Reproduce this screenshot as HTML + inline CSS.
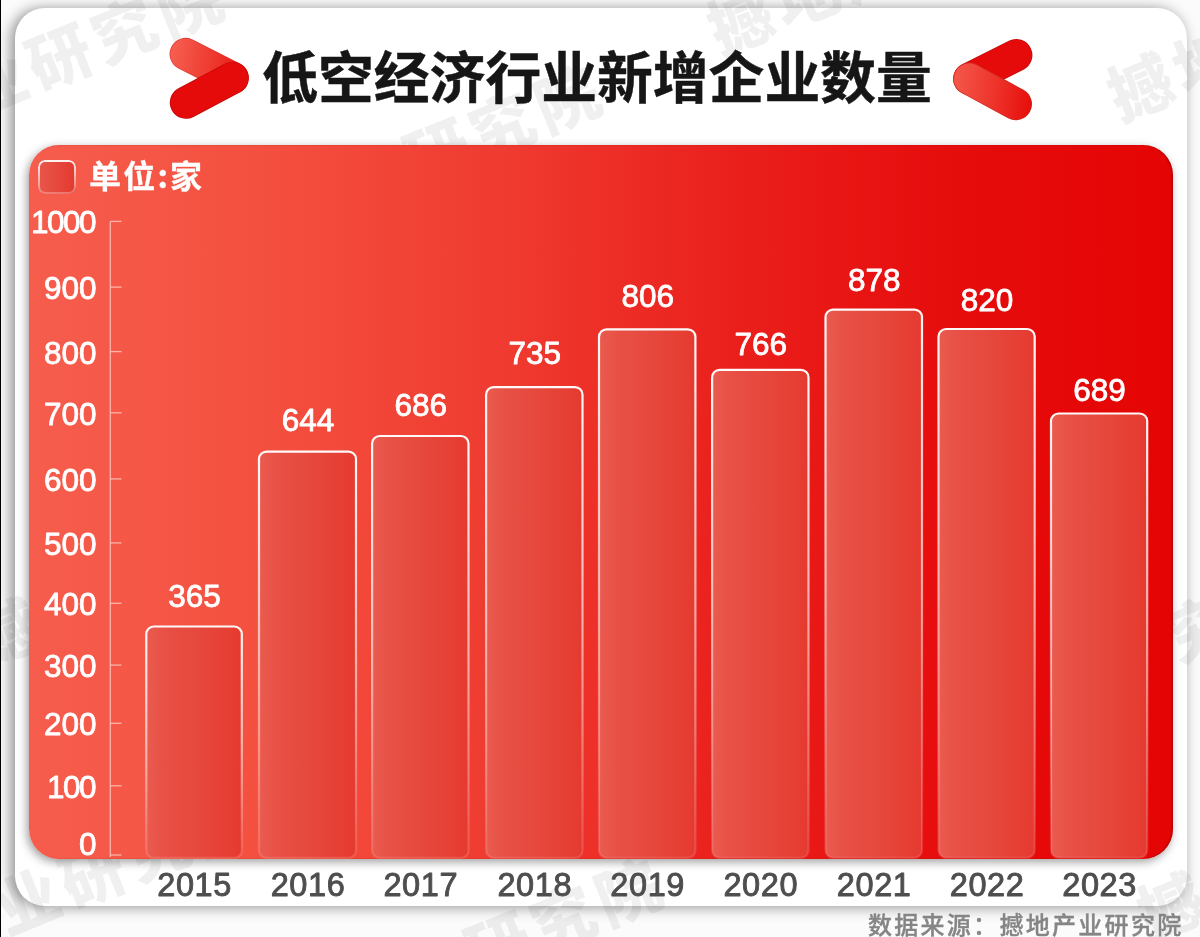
<!DOCTYPE html>
<html lang="zh-CN">
<head>
<meta charset="utf-8">
<title>低空经济行业新增企业数量</title>
<style>
html,body{margin:0;padding:0;}
body{width:1200px;height:937px;position:relative;overflow:hidden;background:#fbfbfb;
font-family:"Liberation Sans","Noto Sans CJK SC",sans-serif;}
.edge{position:absolute;left:0;top:0;width:1px;height:937px;background:#000;}
.card{position:absolute;left:14.5px;top:8px;width:1172px;height:898px;border-radius:30px;background:#fff;
box-shadow:-3.5px 1px 14px rgba(0,0,0,.43);}
.wmlayer{position:absolute;left:0;top:0;width:1200px;height:937px;overflow:hidden;}
.wm{position:absolute;white-space:nowrap;font-family:"Noto Sans CJK SC",sans-serif;font-weight:900;font-size:64px;
letter-spacing:6px;color:#000;opacity:.055;transform:rotate(-22deg);line-height:64px;height:64px;}
.title{position:absolute;left:0;top:36px;width:1200px;text-align:center;margin:0;
font-family:"Noto Sans CJK SC",sans-serif;font-weight:700;font-size:55.8px;line-height:76px;color:#161616;
letter-spacing:0px;text-indent:-6px;-webkit-text-stroke:.45px #161616;}
.ico{position:absolute;left:0;top:0;}
.panel{position:absolute;left:29px;top:145px;width:1144px;height:713.5px;border-radius:30px;
background:linear-gradient(90deg,#f65d4d 0%,#f4503f 20%,#ef3a30 42%,#ea1f1b 62%,#e60d0d 80%,#e50404 100%);
box-shadow:-2px 3px 10px rgba(0,0,0,.38),inset -1.5px 0 1.5px rgba(110,0,0,.40);}
.lgbox{position:absolute;left:38.4px;top:160px;width:38px;height:34px;border-radius:7px;box-sizing:border-box;
background:linear-gradient(90deg,#e9574b,#e4392f);}
.lgbox:after{content:"";position:absolute;left:0;top:0;right:0;bottom:0;border-radius:7px;border:2px solid #fff;
-webkit-mask:linear-gradient(180deg,rgba(0,0,0,.95),rgba(0,0,0,.25));mask:linear-gradient(180deg,rgba(0,0,0,.95),rgba(0,0,0,.25));}
.lgtxt{position:absolute;left:89px;top:149.5px;margin:0;font-family:"Noto Sans CJK SC",sans-serif;font-weight:700;
font-size:32px;line-height:48px;letter-spacing:2.2px;color:#fff;white-space:nowrap;-webkit-text-stroke:.3px #fff;}
.chart{position:absolute;left:0;top:0;}
.chart text{font-family:"Liberation Sans",sans-serif;}
.yl text,.vl text{font-size:31.5px;fill:#fff;stroke:#fff;stroke-width:.8px;stroke-linejoin:round;}
.yl text.n1{letter-spacing:-1.5px;}
.xl text{font-size:32.5px;fill:#4e4e4e;stroke:#4e4e4e;stroke-width:.9px;stroke-linejoin:round;letter-spacing:.6px;}
.src{position:absolute;right:16.5px;top:906px;margin:0;font-family:"Noto Sans CJK SC",sans-serif;font-weight:500;
font-size:24px;line-height:36px;letter-spacing:2.3px;color:#858585;white-space:nowrap;-webkit-text-stroke:.35px #858585;}
</style>
</head>
<body>
<div class="edge"></div>
<div class="card"></div>
<div class="wmlayer">
<div class="wm" style="left:-234px;top:125px;transform-origin:35px 32px">撼地产业研究院</div>
<div class="wm" style="left:144px;top:220px;transform-origin:35px 32px">撼地产业研究院</div>
<div class="wm" style="left:707px;top:-15px;transform-origin:35px 32px">撼地产业研究院</div>
<div class="wm" style="left:1107px;top:51px;transform-origin:35px 32px">撼地产业研究院</div>
<div class="wm" style="left:-201px;top:943px;transform-origin:35px 32px">撼地产业研究院</div>
<div class="wm" style="left:205px;top:1013px;transform-origin:35px 32px">撼地产业研究院</div>
<div class="wm" style="left:-27px;top:596px;transform-origin:35px 32px">撼地产业研究院</div>
<div class="wm" style="left:840px;top:723px;transform-origin:35px 32px">撼地产业研究院</div>
<div class="wm" style="left:1137px;top:870px;transform-origin:35px 32px">撼地产业研究院</div>
</div>
<svg class="ico" width="1200" height="140" viewBox="0 0 1200 140">
<defs>
<linearGradient id="gl" gradientUnits="userSpaceOnUse" x1="170" y1="60" x2="244" y2="72">
<stop offset="0" stop-color="#f65f50"/><stop offset="0.55" stop-color="#ee3a30"/><stop offset="1" stop-color="#e71512"/>
</linearGradient>
<linearGradient id="gr" gradientUnits="userSpaceOnUse" x1="954" y1="88" x2="1032" y2="96">
<stop offset="0" stop-color="#f4564a"/><stop offset="0.5" stop-color="#ee352c"/><stop offset="1" stop-color="#e60e0c"/>
</linearGradient>
</defs>
<g fill="none" stroke-linecap="round" stroke-width="32.4">
<path d="M185.8 54.1L232.6 77.9" stroke="#d8322a"/>
<path d="M185.8 54.1L232.6 77.9" stroke="url(#gl)" stroke-width="31"/>
<path d="M232.6 77.9L186 102.6" stroke="#c40808"/>
<path d="M232.6 77.9L186 102.6" stroke="#e60b0b" stroke-width="31"/>
<path d="M1016.2 55.2L969.4 78.8" stroke="#c40808"/>
<path d="M1016.2 55.2L969.4 78.8" stroke="#e60b0b" stroke-width="31"/>
<path d="M969.4 78.8L1015.8 104" stroke="#cf2620"/>
<path d="M969.4 78.8L1015.8 104" stroke="url(#gr)" stroke-width="31"/>
</g>
</svg>
<h1 class="title">低空经济行业新增企业数量</h1>
<div class="panel"></div>
<div class="lgbox"></div>
<p class="lgtxt">单位:家</p>
<svg class="chart" width="1200" height="937" viewBox="0 0 1200 937">
<defs>
<linearGradient id="bf" x1="0" y1="0" x2="1" y2="0">
<stop offset="0" stop-color="#ea5b4f"/><stop offset="0.18" stop-color="#e85146"/><stop offset="0.6" stop-color="#e6463b"/><stop offset="0.88" stop-color="#e63e33"/><stop offset="1" stop-color="#e5392f"/>
</linearGradient>
<linearGradient id="bs" x1="0" y1="0" x2="0" y2="1">
<stop offset="0" stop-color="#fff" stop-opacity="0.97"/><stop offset="0.5" stop-color="#fff" stop-opacity="0.6"/><stop offset="1" stop-color="#fff" stop-opacity="0.12"/>
</linearGradient>
</defs>
<g stroke="#ffffff" stroke-opacity="0.55" stroke-width="1.3" fill="none">
<path d="M110.3 221.4V857"/>
<path d="M110.3 221.4H121.5"/>
<path d="M110.3 287.1H121.5"/>
<path d="M110.3 351.6H121.5"/>
<path d="M110.3 412.8H121.5"/>
<path d="M110.3 478.9H121.5"/>
<path d="M110.3 542.9H121.5"/>
<path d="M110.3 603.3H121.5"/>
<path d="M110.3 665.1H121.5"/>
<path d="M110.3 723.3H121.5"/>
<path d="M110.3 785.8H121.5"/>
<path d="M110.3 855.0H121.5"/>
</g>
<g class="yl" text-anchor="end">
<text class="n1" x="95.0" y="233.3">1000</text>
<text x="96.6" y="299.0">900</text>
<text x="96.6" y="363.5">800</text>
<text x="96.6" y="424.7">700</text>
<text x="96.6" y="490.8">600</text>
<text x="96.6" y="554.8">500</text>
<text x="96.6" y="615.2">400</text>
<text x="96.6" y="677.0">300</text>
<text x="96.6" y="735.2">200</text>
<text class="n1" x="95.0" y="797.7">100</text>
<text x="96.6" y="855.0">0</text>
</g>
<rect x="146.3" y="626.5" width="95.5" height="231.3" rx="7.5" ry="7.5" fill="url(#bf)" stroke="url(#bs)" stroke-width="2.2"/>
<rect x="259.0" y="451.6" width="97.0" height="406.2" rx="7.5" ry="7.5" fill="url(#bf)" stroke="url(#bs)" stroke-width="2.2"/>
<rect x="372.1" y="436.0" width="96.4" height="421.8" rx="7.5" ry="7.5" fill="url(#bf)" stroke="url(#bs)" stroke-width="2.2"/>
<rect x="486.1" y="387.1" width="96.4" height="470.7" rx="7.5" ry="7.5" fill="url(#bf)" stroke="url(#bs)" stroke-width="2.2"/>
<rect x="599.0" y="329.4" width="96.4" height="528.4" rx="7.5" ry="7.5" fill="url(#bf)" stroke="url(#bs)" stroke-width="2.2"/>
<rect x="712.1" y="369.9" width="96.4" height="487.9" rx="7.5" ry="7.5" fill="url(#bf)" stroke="url(#bs)" stroke-width="2.2"/>
<rect x="825.5" y="309.6" width="96.5" height="548.2" rx="7.5" ry="7.5" fill="url(#bf)" stroke="url(#bs)" stroke-width="2.2"/>
<rect x="938.5" y="329.0" width="96.2" height="528.8" rx="7.5" ry="7.5" fill="url(#bf)" stroke="url(#bs)" stroke-width="2.2"/>
<rect x="1051.0" y="413.5" width="96.2" height="444.3" rx="7.5" ry="7.5" fill="url(#bf)" stroke="url(#bs)" stroke-width="2.2"/>
<g class="vl" text-anchor="middle">
<text x="194.6" y="607.2">365</text>
<text x="308.0" y="431.4">644</text>
<text x="420.8" y="416.4">686</text>
<text x="534.8" y="363.6">735</text>
<text x="647.7" y="307.4">806</text>
<text x="760.8" y="354.9">766</text>
<text x="874.2" y="290.9">878</text>
<text x="987.1" y="311.2">820</text>
<text x="1099.6" y="401.2">689</text>
</g>
<g class="xl" text-anchor="middle">
<text x="194.6" y="896">2015</text>
<text x="308.0" y="896">2016</text>
<text x="420.8" y="896">2017</text>
<text x="534.8" y="896">2018</text>
<text x="647.7" y="896">2019</text>
<text x="760.8" y="896">2020</text>
<text x="874.2" y="896">2021</text>
<text x="987.1" y="896">2022</text>
<text x="1099.6" y="896">2023</text>
</g>
</svg>
<p class="src">数据来源：撼地产业研究院</p>
</body>
</html>
